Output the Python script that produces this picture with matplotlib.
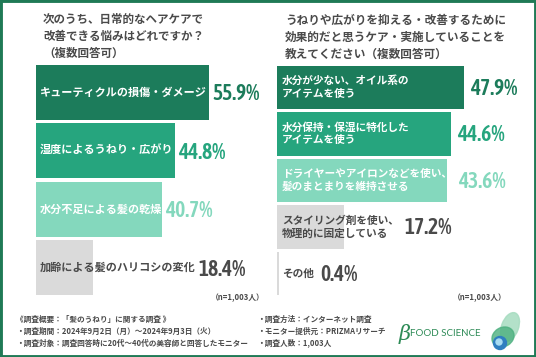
import matplotlib.pyplot as plt
from matplotlib import font_manager as fm
from matplotlib.patches import Rectangle, Ellipse, Circle

W, H = 536, 357
plt.rcParams['font.family'] = ['Noto Sans CJK JP', 'DejaVu Sans']

left_title = '次のうち、日常的なヘアケアで\n改善できる悩みはどれですか？\n（複数回答可）'
left_labels = ['キューティクルの損傷・ダメージ', '湿度によるうねり・広がり',
               '水分不足による髪の乾燥', '加齢による髪のハリコシの変化']
left_values = [55.9, 44.8, 40.7, 18.4]

right_title = 'うねりや広がりを抑える・改善するために\n効果的だと思うケア・実施していることを\n教えてください（複数回答可）'
right_labels = ['水分が少ない、オイル系の\nアイテムを使う', '水分保持・保湿に特化した\nアイテムを使う',
                'ドライヤーやアイロンなどを使い、\n髪のまとまりを維持させる',
                'スタイリング剤を使い、\n物理的に固定している', 'その他']
right_values = [47.9, 44.6, 43.6, 17.2, 0.4]

sample_note = '（n=1,003人）'
footer_left = ['《調査概要：「髪のうねり」に関する調査 》',
               '・調査期間：2024年9月2日（月）～2024年9月3日（火）',
               '・調査対象：調査回答時に20代～40代の美容師と回答したモニター']
footer_mid = ['・調査方法：インターネット調査',
              '・モニター提供元：PRIZMAリサーチ',
              '・調査人数：1,003人']

DARK = '#1c7c5b'
MID = '#26a57e'
LIGHT = '#84d8bd'
GRAY = '#dadada'
TXT = '#4a4a4a'
BORDER = '#1f7a56'


def weight_num(w):
    return w if isinstance(w, int) else fm.weight_dict.get(w, 400)


# percentages use a condensed face if one is installed
narrow = [f for f in fm.fontManager.ttflist
          if f.style == 'normal' and ('Narrow' in f.name or 'Condensed' in f.name
                                      or f.stretch in ('condensed', 'semi-condensed', 'extra-condensed'))]
if narrow:
    narrow.sort(key=lambda f: abs(weight_num(f.weight) - 600))
    VAL_FONT = dict(fontproperties=fm.FontProperties(fname=narrow[0].fname, size=15.5))
else:
    VAL_FONT = dict(family='Roboto', weight='medium', fontsize=12.5)


def fx(x):
    return x / W


def fy(y):
    return 1 - y / H


def panel(fig, x0, x1, y0, y1, px_per_pct, labels, values, bar_colors,
          label_colors, value_colors, lab_size, lab_pad, val_gap):
    ax = fig.add_axes([fx(x0), fy(y1), (x1 - x0) / W, (y1 - y0) / H])
    n = len(values)
    ax.set_xlim(0, (x1 - x0) / px_per_pct)
    ax.set_ylim(n - 0.5, -0.5)
    ax.barh(range(n), values, height=0.935, color=bar_colors)
    ax.axis('off')
    r = fig.canvas.get_renderer()
    inv = ax.transData.inverted()
    for i, (lab, v) in enumerate(zip(labels, values)):
        t = ax.text(lab_pad / px_per_pct, i, lab, va='center', ha='left',
                    color=label_colors[i], fontsize=lab_size, weight='bold',
                    linespacing=1.3)
        ext = t.get_window_extent(renderer=r)
        bar_end = ax.transData.transform((v, i))[0]
        xd = max(ext.x1, bar_end) + val_gap
        xv = inv.transform((xd, 0))[0]
        ax.text(xv, i + 0.03, f'{v}%', va='center', ha='left', color=value_colors[i],
                **VAL_FONT)
    return ax


fig = plt.figure(figsize=(W / 100, H / 100), dpi=100)
fig.patch.set_facecolor('white')

fig.text(fx(43), fy(13), left_title, ha='left', va='top', fontsize=8.3,
         weight='bold', color=TXT, linespacing=1.4)
fig.text(fx(285), fy(14), right_title, ha='left', va='top', fontsize=8.4,
         weight='bold', color=TXT, linespacing=1.4)

panel(fig, 36, 272, 63, 297, 3.1, left_labels, left_values,
      [DARK, MID, LIGHT, GRAY], ['white', 'white', 'white', TXT],
      [DARK, MID, LIGHT, TXT], 8.0, 4, 3)
panel(fig, 277, 530, 64, 297, 3.9, right_labels, right_values,
      [DARK, MID, LIGHT, GRAY, GRAY], ['white', 'white', 'white', TXT, TXT],
      [DARK, MID, LIGHT, TXT, TXT], 7.7, 5, 6)

fig.text(fx(265), fy(298), sample_note, ha='right', va='center', fontsize=5.6,
         color=TXT, weight='bold')
fig.text(fx(507), fy(298), sample_note, ha='right', va='center', fontsize=5.6,
         color=TXT, weight='bold')

for k, line in enumerate(footer_left):
    fig.text(fx(16), fy(319 + 12 * k), line, ha='left', va='center', fontsize=5.5,
             color=TXT, weight='bold')
for k, line in enumerate(footer_mid):
    fig.text(fx(257), fy(319 + 12 * k), line, ha='left', va='center', fontsize=5.5,
             color=TXT, weight='bold')

# logo
fig.text(fx(399), fy(334), 'β', ha='left', va='center', fontsize=15, style='italic',
         color='#2e8b57', family='DejaVu Serif')
fig.text(fx(410), fy(333), 'FOOD SCIENCE', ha='left', va='center', fontsize=7,
         color='#2e8b57', family='Lato')
lax = fig.add_axes([fx(486), fy(354), 38 / W, 44 / H])
lax.set_xlim(0, 38)
lax.set_ylim(44, 0)
lax.axis('off')
lax.add_patch(Ellipse((24, 17), 17, 30, angle=20, color='#a6dcc0', alpha=0.85))
lax.add_patch(Ellipse((17, 27), 23, 19, angle=-30, color='#4cb07f', alpha=0.8))
lax.add_patch(Circle((14, 33), 6.5, color='#2f7fc0'))
lax.add_patch(Circle((13, 32), 3, color='#a8dcf2'))

fig.add_artist(Rectangle((0, 0), 1, 1, transform=fig.transFigure, fill=False,
                         edgecolor=BORDER, linewidth=3.5))

fig.savefig('out.png', dpi=100)
